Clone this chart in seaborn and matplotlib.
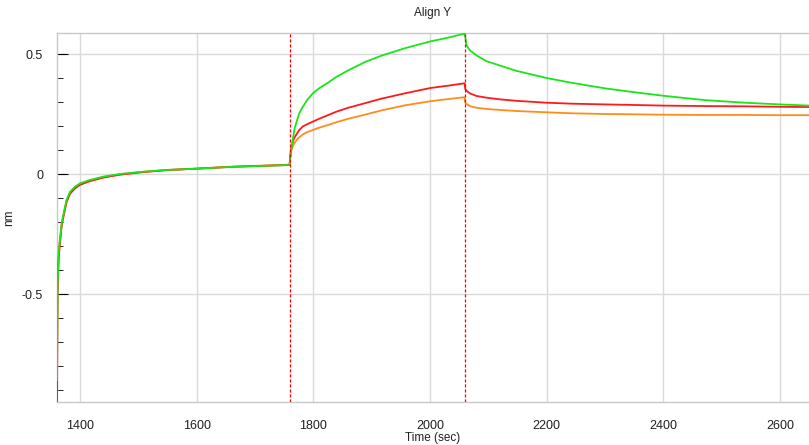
import numpy as np
import pandas as pd
import matplotlib
matplotlib.use("Agg")
import matplotlib.pyplot as plt
import seaborn as sns
from matplotlib.ticker import MultipleLocator, FuncFormatter

# ---- data ----
t_base = [1360.6, 1361.6, 1363.5, 1365.7, 1368.6, 1372.6, 1377, 1383, 1391.5, 1400,
          1417, 1440, 1468.6, 1508.6, 1548.6, 1600, 1663, 1759.5]
green_base = [-0.86, -0.47, -0.33, -0.275, -0.205, -0.157, -0.108, -0.074, -0.053, -0.039,
              -0.025, -0.011, 0.0, 0.0097, 0.0167, 0.022, 0.03, 0.0375]
red_base = [-0.98, -0.49, -0.35, -0.29, -0.215, -0.167, -0.117, -0.082, -0.06, -0.045,
            -0.03, -0.015, -0.003, 0.008, 0.016, 0.022, 0.03, 0.0375]
orange_base = [-0.70, -0.44, -0.32, -0.27, -0.21, -0.16, -0.112, -0.078, -0.056, -0.042,
               -0.027, -0.013, -0.001, 0.009, 0.017, 0.023, 0.031, 0.039]

t_assoc = [1760.2, 1762, 1765, 1768, 1772, 1776, 1782, 1790, 1800, 1810, 1825, 1840,
           1860, 1890, 1917, 1957, 2000, 2031, 2059.5]
green_assoc = [0.06, 0.095, 0.145, 0.19, 0.222, 0.253, 0.28, 0.31, 0.338, 0.357, 0.38, 0.405,
               0.432, 0.468, 0.493, 0.524, 0.552, 0.568, 0.585]
red_assoc = [0.07, 0.105, 0.136, 0.153, 0.168, 0.183, 0.198, 0.208, 0.219, 0.23, 0.245, 0.26,
             0.276, 0.296, 0.314, 0.336, 0.358, 0.368, 0.378]
orange_assoc = [0.065, 0.095, 0.116, 0.13, 0.143, 0.153, 0.165, 0.175, 0.184, 0.193, 0.204, 0.216,
                0.23, 0.248, 0.265, 0.286, 0.303, 0.312, 0.32]

t_dissoc = [2060.5, 2063, 2068.6, 2080, 2097, 2120, 2148, 2200, 2243, 2300, 2343, 2400,
            2471, 2540, 2600, 2650]
green_dissoc = [0.572, 0.535, 0.515, 0.494, 0.47, 0.452, 0.43, 0.4, 0.38, 0.357, 0.343, 0.326,
                0.308, 0.297, 0.29, 0.285]
red_dissoc = [0.355, 0.346, 0.336, 0.325, 0.318, 0.311, 0.305, 0.297, 0.293, 0.29, 0.288, 0.285,
              0.283, 0.282, 0.28, 0.279]
orange_dissoc = [0.297, 0.292, 0.283, 0.276, 0.271, 0.267, 0.2625, 0.257, 0.253, 0.25, 0.249, 0.247,
                 0.246, 0.246, 0.245, 0.245]

event_times = [1760, 2060]
x_ticks = [1400, 1600, 1800, 2000, 2200, 2400, 2600]
y_ticks = [-0.5, 0, 0.5]
series_names = ["green", "red", "orange"]
series_colors = {"green": "#19e619", "red": "#ff1a1a", "orange": "#ff8c1a"}

# ---- build long table ----
t_all = t_base + t_assoc + t_dissoc
vals = {
    "green": green_base + green_assoc + green_dissoc,
    "red": red_base + red_assoc + red_dissoc,
    "orange": orange_base + orange_assoc + orange_dissoc,
}
rows = []
for name in series_names:
    for t, v in zip(t_all, vals[name]):
        rows.append({"t": t, "v": v, "s": name})
df = pd.DataFrame(rows)

# ---- figure ----
sns.set_style("white")
plt.rcParams["font.family"] = ["Liberation Sans", "DejaVu Sans"]
fig = plt.figure(figsize=(8.09, 4.45), dpi=100)
ax = fig.add_axes([57 / 809, 1 - 402 / 445, 1 - 57 / 809, (402 - 33) / 445])

for name in ["orange", "red", "green"]:
    sub = df[df.s == name]
    sns.lineplot(data=sub, x="t", y="v", color=series_colors[name], lw=1.3,
                 estimator=None, sort=False, ax=ax, legend=False, zorder=3)

for et in event_times:
    ax.axvline(et, color="#ff0000", lw=0.9, ls=(0, (2.5, 1.5)), zorder=4)

ax.set_xlim(1360.6, 2650)
ax.set_ylim(-0.95, 0.5875)

ax.set_xticks(x_ticks)
ax.xaxis.set_minor_locator(MultipleLocator(50))
ax.set_yticks(y_ticks)
ax.yaxis.set_minor_locator(MultipleLocator(0.1))
ax.yaxis.set_major_formatter(FuncFormatter(lambda v, p: "0" if abs(v) < 1e-9 else f"{v:g}"))

ax.grid(True, which="major", color="#d9d9d9", lw=1, zorder=0)
ax.set_axisbelow(True)

ax.tick_params(axis="x", which="both", direction="out", length=5, color="#c8c8c8",
               labelsize=9, labelcolor="#202020", pad=8)
ax.tick_params(axis="y", which="major", direction="in", length=8, color="#000000",
               labelsize=9, labelcolor="#202020", pad=10, left=True)
ax.tick_params(axis="y", which="minor", direction="in", length=4, color="#000000", left=True)

for sp in ["left", "top", "bottom"]:
    ax.spines[sp].set_color("#c8c8c8")
    ax.spines[sp].set_linewidth(1)
ax.spines["right"].set_visible(False)

ax.set_xlabel("Time (sec)", fontsize=8.5, color="#202020", labelpad=0)
ax.set_ylabel("nm", fontsize=8.5, color="#202020")
ax.yaxis.set_label_coords((15 - 57) / 752, 0.5)
ax.set_title("Align Y", fontsize=8.5, color="#202020", pad=12)

fig.savefig("out.png", dpi=100)
